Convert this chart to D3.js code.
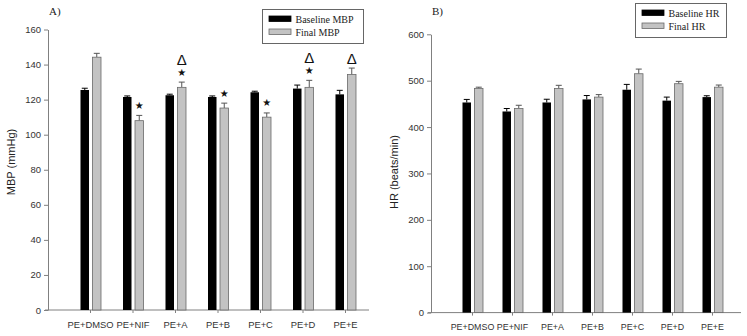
<!DOCTYPE html>
<html>
<head>
<style>
  body { margin: 0; background: #fff; }
  svg { display: block; }
  .tick text { font-family: "Liberation Sans", Arial, sans-serif; fill: #333; }
</style>
</head>
<body>
<script src="https://d3js.org/d3.v7.min.js"></script>
<div id="chart"></div>
<script>
const width = 747
const height = 336

const categories = ["PE+DMSO", "PE+NIF", "PE+A", "PE+B", "PE+C", "PE+D", "PE+E"]

// panel A: mean blood pressure
const mbpBaseline = [125.5, 121.5, 122.5, 121.5, 124.2, 126.3, 123]
const mbpBaselineErr = [1, 0.6, 0.6, 0.6, 0.6, 2, 2.3]
const mbpFinal = [144.2, 108, 127, 115.2, 110, 127, 134.3]
const mbpFinalErr = [2.2, 3, 3, 2.8, 2.4, 4, 3.7]
const mbpStar = [false, true, true, true, true, true, false]
const mbpDelta = [false, false, true, false, false, true, true]
const mbpTicks = [0, 20, 40, 60, 80, 100, 120, 140, 160]

// panel B: heart rate
const hrBaseline = [453, 433.6, 453, 459.6, 480.5, 457, 464.6]
const hrBaselineErr = [6.6, 6.4, 7, 8.4, 11.5, 7.6, 2.9]
const hrFinal = [483.4, 440, 483, 464.6, 515, 493.5, 486]
const hrFinalErr = [2.6, 7, 7, 5.4, 10, 5, 4.6]
const hrTicks = [0, 100, 200, 300, 400, 500, 600]

const svg = d3.select("#chart").append("svg").attr("width", width).attr("height", height)

const axisColor = "#808080"
const barW = 8.5

const drawPanel = (cfg) => {
    const g = svg.append("g")
    const y = d3.scaleLinear().domain([0, cfg.max]).range([cfg.y0, cfg.yTop])
    const x = d3.scaleBand().domain(categories).range(cfg.xRange)

    // y axis
    const yAxis = g.append("g")
        .attr("transform", "translate(" + cfg.axisX + ",0)")
        .call(d3.axisLeft(y).tickValues(cfg.ticks).tickSize(4).tickSizeOuter(0).tickPadding(3))
    yAxis.select(".domain").attr("stroke", axisColor)
    yAxis.selectAll(".tick line").attr("stroke", axisColor)
    yAxis.selectAll(".tick text").attr("font-size", "9.5px")

    // x axis
    g.append("line")
        .attr("x1", cfg.axisX - 3).attr("x2", cfg.xEnd)
        .attr("y1", cfg.y0).attr("y2", cfg.y0)
        .attr("stroke", axisColor)
    const xAxis = g.append("g")
        .attr("transform", "translate(0," + cfg.y0 + ")")
        .call(d3.axisBottom(x).tickSize(3).tickPadding(8))
    xAxis.select(".domain").remove()
    xAxis.selectAll(".tick line").attr("stroke", axisColor)
    xAxis.selectAll(".tick text").attr("font-size", cfg.xFont)

    const cx = (d) => x(d) + x.bandwidth() / 2

    const series = [
        { vals: cfg.base, errs: cfg.baseErr, dx: -10, fill: "#000", stroke: "none", err: "#000" },
        { vals: cfg.fin, errs: cfg.finErr, dx: 2, fill: "#c3c3c3", stroke: "#6a6a6a", err: "#555" }
    ]

    series.forEach(s => {
        const sg = g.append("g")
        // error bars
        sg.selectAll(".err")
            .data(categories)
            .enter()
            .append("path")
            .attr("fill", "none")
            .attr("stroke", s.err)
            .attr("stroke-width", 1)
            .attr("d", (d, i) => {
                const mx = cx(d) + s.dx + barW / 2
                const top = y(s.vals[i] + s.errs[i])
                return "M" + mx + "," + y(s.vals[i]) + "V" + top + "M" + (mx - 3) + "," + top + "H" + (mx + 3)
            })
        sg.selectAll("rect")
            .data(categories)
            .enter()
            .append("rect")
            .attr("x", d => cx(d) + s.dx)
            .attr("width", barW)
            .attr("y", (d, i) => y(s.vals[i]))
            .attr("height", (d, i) => cfg.y0 - y(s.vals[i]))
            .attr("fill", s.fill)
            .attr("stroke", s.stroke)
            .attr("stroke-width", 0.8)
    })

    // significance marks above final bars
    if (cfg.star) {
        categories.forEach((d, i) => {
            const mx = cx(d) + 2 + barW / 2
            const top = y(cfg.fin[i] + cfg.finErr[i])
            let pos = top - 10
            if (cfg.star[i]) {
                g.append("text")
                    .attr("x", mx).attr("y", pos + 3.5)
                    .attr("text-anchor", "middle")
                    .attr("font-family", "DejaVu Sans, sans-serif")
                    .attr("font-size", "10px")
                    .attr("fill", "#111")
                    .text("★")
                pos -= 12.5
            }
            if (cfg.delta[i]) {
                g.append("text")
                    .attr("x", mx).attr("y", pos + 5.5)
                    .attr("text-anchor", "middle")
                    .attr("font-family", "Liberation Sans, Arial, sans-serif")
                    .attr("font-size", "15px")
                    .attr("fill", "#111")
                    .text("Δ")
            }
        })
    }

    // y label
    g.append("text")
        .attr("transform", "translate(" + cfg.labelX + "," + cfg.labelY + ") rotate(-90)")
        .attr("text-anchor", "middle")
        .attr("font-family", "Liberation Sans, Arial, sans-serif")
        .attr("font-size", "11px")
        .attr("fill", "#222")
        .text(cfg.yLabel)

    // panel letter
    g.append("text")
        .attr("x", cfg.axisX + 1).attr("y", 15)
        .attr("font-family", "Liberation Serif, serif")
        .attr("font-size", "11px")
        .attr("fill", "#222")
        .text(cfg.letter)

    // legend
    const lg = g.append("g").attr("transform", "translate(" + cfg.legend[0] + "," + cfg.legend[1] + ")")
    lg.append("rect")
        .attr("width", cfg.legend[2]).attr("height", 34)
        .attr("fill", "#fff").attr("stroke", "#666").attr("stroke-width", 1)
    cfg.legendNames.forEach((name, i) => {
        lg.append("rect")
            .attr("x", 6.5).attr("y", 6.5 + i * 13)
            .attr("width", 22).attr("height", 5.5)
            .attr("fill", i === 0 ? "#000" : "#c3c3c3")
            .attr("stroke", i === 0 ? "#000" : "#6a6a6a")
            .attr("stroke-width", 0.8)
        lg.append("text")
            .attr("x", 33).attr("y", 13 + i * 13)
            .attr("font-family", "Liberation Serif, serif")
            .attr("font-size", "10px")
            .attr("fill", "#222")
            .text(name)
    })
}

drawPanel({
    max: 160, y0: 310, yTop: 29.5, ticks: mbpTicks,
    xRange: [69.25, 366.75], axisX: 48, xEnd: 369, xFont: "9.4px",
    base: mbpBaseline, baseErr: mbpBaselineErr, fin: mbpFinal, finErr: mbpFinalErr,
    star: mbpStar, delta: mbpDelta,
    yLabel: "MBP (mmHg)", labelX: 15, labelY: 162,
    letter: "A)", legend: [262.5, 9.5, 101], legendNames: ["Baseline MBP", "Final MBP"]
})

drawPanel({
    max: 600, y0: 312.6, yTop: 34.3, ticks: hrTicks,
    xRange: [452.5, 732.5], axisX: 431, xEnd: 741, xFont: "8.9px",
    base: hrBaseline, baseErr: hrBaselineErr, fin: hrFinal, finErr: hrFinalErr,
    yLabel: "HR (beats/min)", labelX: 398, labelY: 172,
    letter: "B)", legend: [635.5, 3.5, 91], legendNames: ["Baseline HR", "Final HR"]
})
</script>
</body>
</html>
